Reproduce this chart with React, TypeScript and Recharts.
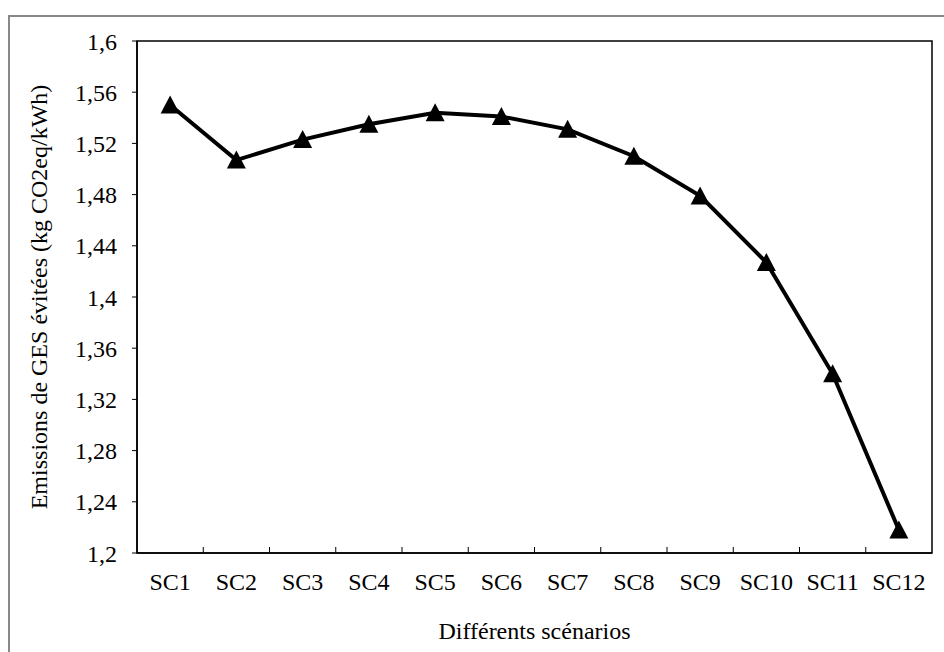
import React from "react";
import { LineChart, Line, XAxis, YAxis, ReferenceArea } from "recharts";

const categories = ["SC1", "SC2", "SC3", "SC4", "SC5", "SC6", "SC7", "SC8", "SC9", "SC10", "SC11", "SC12"];
const emissions = [1.55, 1.507, 1.523, 1.535, 1.544, 1.541, 1.531, 1.51, 1.479, 1.427, 1.34, 1.218];
const yTicks = [1.2, 1.24, 1.28, 1.32, 1.36, 1.4, 1.44, 1.48, 1.52, 1.56, 1.6];

const data = categories.map((c, i) => ({ name: c, value: emissions[i] }));

const FONT = "'Liberation Serif', 'Times New Roman', serif";
const FS = 24;
const X_TICK_MARGIN = 20;

const fmt = (v: number) => String(Math.round(v * 100) / 100).replace(".", ",");

const Triangle = (props: any) => {
  const { cx, cy } = props;
  if (cx == null || cy == null) return null;
  return (
    <polygon
      points={`${cx},${cy - 9.5} ${cx - 9.5},${cy + 8.5} ${cx + 9.5},${cy + 8.5}`}
      fill="#000"
      stroke="none"
    />
  );
};

const XTick = (props: any) => {
  const { x, y, payload, index } = props;
  const off = payload && payload.offset != null ? payload.offset : 0;
  const axisY = y - X_TICK_MARGIN;
  return (
    <g>
      {index > 0 && off > 0 ? (
        <line x1={x - off} x2={x - off} y1={axisY} y2={axisY - 6} stroke="#000" strokeWidth={1} />
      ) : null}
      <text x={x} y={y} dy="0.71em" textAnchor="middle" fontFamily={FONT} fontSize={FS} fill="#000">
        {payload.value}
      </text>
    </g>
  );
};

export default function App() {
  return (
    <div style={{ position: "absolute", left: 0, top: 0, width: 944, height: 652, overflow: "hidden", background: "#fff" }}>
      <div
        style={{
          position: "absolute",
          left: 8,
          top: 15,
          width: 1000,
          height: 1000,
          border: "2px solid #888",
          boxSizing: "border-box",
        }}
      />
      <div style={{ position: "absolute", left: 0, top: 0 }}>
        <LineChart
          width={944}
          height={652}
          data={data}
          margin={{ top: 41, right: 12, bottom: 0, left: 0 }}
        >
          <XAxis
            dataKey="name"
            xAxisId="main"
            scale="band"
            height={99}
            axisLine={{ stroke: "#000", strokeWidth: 1.5 }}
            tickLine={false}
            tickSize={0}
            tickMargin={X_TICK_MARGIN}
            tick={<XTick />}
            interval={0}
            label={{
              value: "Différents scénarios",
              position: "insideBottom",
              offset: 13,
              style: { fontFamily: FONT, fontSize: FS, fill: "#000" },
            }}
          />
          <YAxis
            yAxisId="main"
            width={137}
            domain={[1.2, 1.6]}
            ticks={yTicks}
            interval={0}
            tickFormatter={fmt}
            axisLine={{ stroke: "#000", strokeWidth: 1.5 }}
            tickLine={{ stroke: "#000", strokeWidth: 1 }}
            tickSize={5}
            tickMargin={15}
            tick={{ fontFamily: FONT, fontSize: FS, fill: "#000" }}
            label={{
              value: "Emissions de GES évitées (kg CO2eq/kWh)",
              angle: -90,
              position: "insideLeft",
              offset: 38,
              style: { fontFamily: FONT, fontSize: FS, fill: "#000", textAnchor: "middle" },
            }}
          />
          <ReferenceArea
            xAxisId="main"
            yAxisId="main"
            y1={1.2}
            y2={1.6}
            fill="none"
            fillOpacity={0}
            stroke="#000"
            strokeWidth={1.5}
            ifOverflow="visible"
          />
          <Line
            xAxisId="main"
            yAxisId="main"
            type="linear"
            dataKey="value"
            stroke="#000"
            strokeWidth={4}
            dot={<Triangle />}
            activeDot={false}
            isAnimationActive={false}
          />
        </LineChart>
      </div>
    </div>
  );
}
